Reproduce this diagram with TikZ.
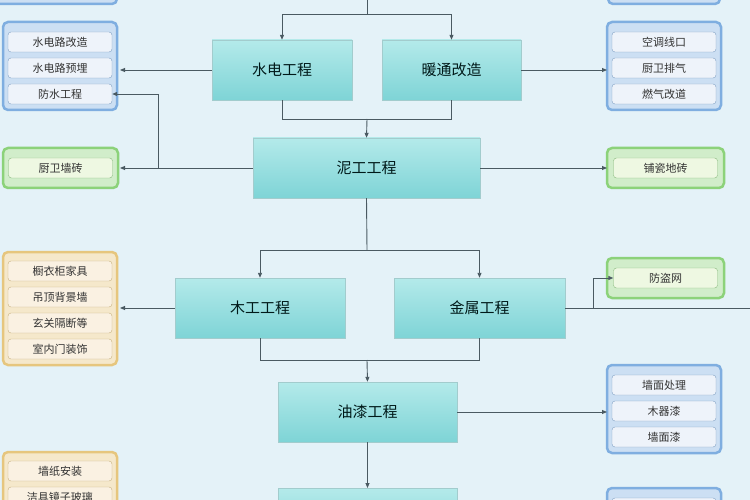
\documentclass[tikz,border=0pt]{standalone}
\usepackage{fontspec}
\setmainfont{Noto Sans CJK SC}
\usetikzlibrary{arrows.meta}
\definecolor{bg}{HTML}{E4F2F8}
\definecolor{mainA}{HTML}{B4EAEA}
\definecolor{mainB}{HTML}{7ED4D6}
\definecolor{ln}{HTML}{4A5A62}
\definecolor{bluO}{HTML}{7FAEE0}
\definecolor{bluI}{HTML}{EEF3FA}
\definecolor{grnO}{HTML}{8CD27A}
\definecolor{grnI}{HTML}{EEF8E2}
\definecolor{tanO}{HTML}{E6C67E}
\definecolor{tanI}{HTML}{FAF1E2}
\tikzset{x=1pt,y=-1pt,
 mainbox/.style={draw=mainB!80!black!60,top color=mainA,bottom color=mainB,minimum width=#1,minimum height=60pt,inner sep=0pt,font=\fontsize{15}{15}\selectfont,text=black!80!teal},
 grp/.style={draw=#1O,line width=2.5pt,fill=#1O!40,rounded corners=5pt},
 item/.style={draw=#1O!70!gray,fill=#1I,rounded corners=3pt,minimum width=104pt,minimum height=20pt,inner sep=0pt,font=\fontsize{11}{11}\selectfont,text=black!80},
 conn/.style={draw=ln,line width=0.9pt},
 arr/.style={conn,-{Triangle[length=5pt,width=4pt]}}}
\begin{document}
\begin{tikzpicture}
\useasboundingbox (0,0) rectangle (750,500);
\clip (0,0) rectangle (750,500);
\fill[bg] (0,0) rectangle (750,500);
% partial top boxes
\draw[grp=blu] (-5,-30) rectangle (117,4);
\draw[grp=blu] (608,-30) rectangle (720,4);
% main boxes
\node[mainbox=140pt] (sd) at (282,70) {水电工程};
\node[mainbox=139pt] (nt) at (451.5,70) {暖通改造};
\node[mainbox=227pt] (ng) at (366.5,168) {泥工工程};
\node[mainbox=170pt] (mg) at (260,308) {木工工程};
\node[mainbox=171pt] (js) at (479.5,308) {金属工程};
\node[mainbox=179pt] (yq) at (367.5,412) {油漆工程};
\node[mainbox=179pt,anchor=north] (last) at (367.5,488) {};
% left blue group
\draw[grp=blu] (3,22) rectangle (117,110);
\node[item=blu] (l1) at (60,42) {水电路改造};
\node[item=blu] (l2) at (60,68) {水电路预埋};
\node[item=blu] (l3) at (60,94) {防水工程};
% right blue group
\draw[grp=blu] (607,22) rectangle (721,110);
\node[item=blu] (r1) at (664,42) {空调线口};
\node[item=blu] (r2) at (664,68) {厨卫排气};
\node[item=blu] (r3) at (664,94) {燃气改道};
% green
\draw[grp=grn] (3,148) rectangle (118,188);
\node[item=grn] (g1) at (60.5,168) {厨卫墙砖};
\draw[grp=grn] (607,148) rectangle (724,188);
\node[item=grn] (g2) at (665.5,168) {铺瓷地砖};
\draw[grp=grn] (607,258) rectangle (724,298);
\node[item=grn] (g3) at (665.5,278) {防盗网};
% tan group
\draw[grp=tan] (3,252) rectangle (117,365);
\node[item=tan] (t1) at (60,271) {橱衣柜家具};
\node[item=tan] (t2) at (60,297) {吊顶背景墙};
\node[item=tan] (t3) at (60,323) {玄关隔断等};
\node[item=tan] (t4) at (60,349) {室内门装饰};
% oil blue group
\draw[grp=blu] (607,365) rectangle (721,453);
\node[item=blu] (o1) at (664,385) {墙面处理};
\node[item=blu] (o2) at (664,411) {木器漆};
\node[item=blu] (o3) at (664,437) {墙面漆};
% bottom partial groups
\draw[grp=tan] (3,452) rectangle (117,530);
\node[item=tan] (b1) at (60,471) {墙纸安装};
\node[item=tan] (b2) at (60,497) {洁具镜子玻璃};
\draw[grp=blu] (607,488) rectangle (721,530);
\node[item=blu] (b3) at (664,508) {};
% connectors
\coordinate (top) at (367,0);
\draw[conn] (top) -- (367,14);
\draw[arr] (367,14) -| (sd.north);
\draw[arr] (367,14) -| (nt.north);
\draw[conn] (sd.south) |- (367,119);
\draw[conn] (nt.south) |- (367,119);
\draw[arr] (367,119) -- (ng.north);
\draw[arr] (sd.west) -- (120,70);
\draw[arr] (nt.east) -- (607,70);
\draw[arr] (ng.west) -- (120,168);
\draw[arr] (158,168) |- (l3.east);
\draw[arr] (ng.east) -- (607,168);
\draw[conn] (ng.south) -- (367,250);
\draw[arr] (367,250) -| (mg.north);
\draw[arr] (367,250) -| (js.north);
\draw[arr] (mg.west) -- (120,308);
\coordinate (rend) at (750,308);
\draw[conn] (js.east) -- (rend);
\draw[arr] (593,308) |- (g3.west);
\draw[conn] (mg.south) |- (367,360);
\draw[conn] (js.south) |- (367,360);
\draw[arr] (367,360) -- (yq.north);
\draw[arr] (yq.east) -- (607,412);
\draw[arr] (yq.south) -- (last.north);
\end{tikzpicture}
\end{document}
